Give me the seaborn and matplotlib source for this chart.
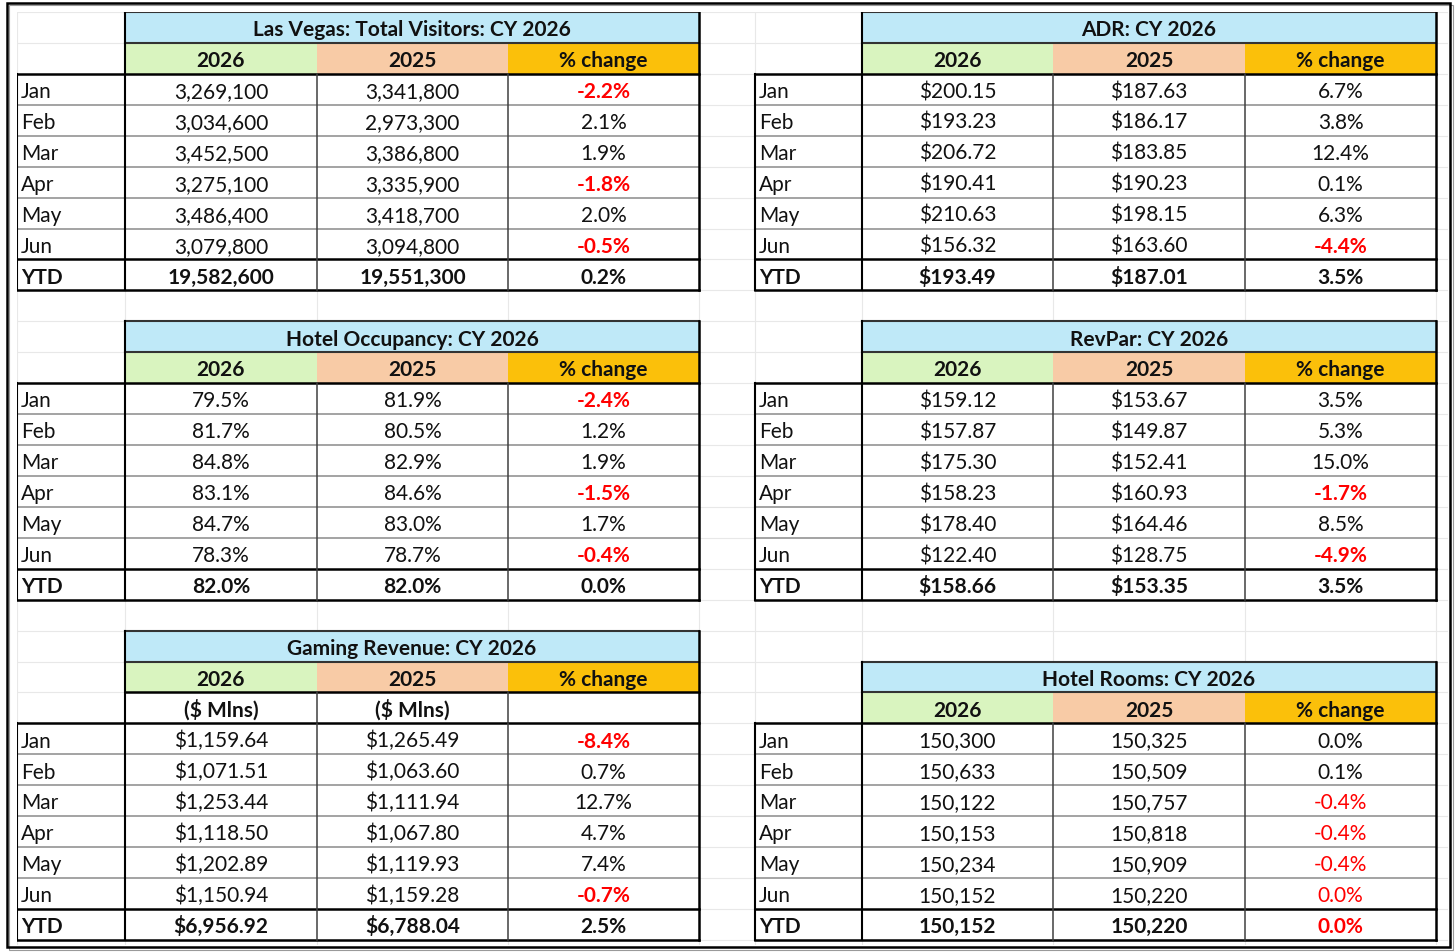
import matplotlib
matplotlib.use("Agg")
import matplotlib.pyplot as plt
from matplotlib.patches import Rectangle
import seaborn as sns

# ---- data ----
months = ["Jan", "Feb", "Mar", "Apr", "May", "Jun", "YTD"]
headers = ["2026", "2025", "% change"]

visitors_2026 = [3269100, 3034600, 3452500, 3275100, 3486400, 3079800, 19582600]
visitors_2025 = [3341800, 2973300, 3386800, 3335900, 3418700, 3094800, 19551300]
visitors_pct = [-2.2, 2.1, 1.9, -1.8, 2.0, -0.5, 0.2]

occ_2026 = [79.5, 81.7, 84.8, 83.1, 84.7, 78.3, 82.0]
occ_2025 = [81.9, 80.5, 82.9, 84.6, 83.0, 78.7, 82.0]
occ_pct = [-2.4, 1.2, 1.9, -1.5, 1.7, -0.4, 0.0]

gaming_2026 = [1159.64, 1071.51, 1253.44, 1118.50, 1202.89, 1150.94, 6956.92]
gaming_2025 = [1265.49, 1063.60, 1111.94, 1067.80, 1119.93, 1159.28, 6788.04]
gaming_pct = [-8.4, 0.7, 12.7, 4.7, 7.4, -0.7, 2.5]

adr_2026 = [200.15, 193.23, 206.72, 190.41, 210.63, 156.32, 193.49]
adr_2025 = [187.63, 186.17, 183.85, 190.23, 198.15, 163.60, 187.01]
adr_pct = [6.7, 3.8, 12.4, 0.1, 6.3, -4.4, 3.5]

revpar_2026 = [159.12, 157.87, 175.30, 158.23, 178.40, 122.40, 158.66]
revpar_2025 = [153.67, 149.87, 152.41, 160.93, 164.46, 128.75, 153.35]
revpar_pct = [3.5, 5.3, 15.0, -1.7, 8.5, -4.9, 3.5]

rooms_2026 = [150300, 150633, 150122, 150153, 150234, 150152, 150152]
rooms_2025 = [150325, 150509, 150757, 150818, 150909, 150220, 150220]
rooms_pct = [0.0, 0.1, -0.4, -0.4, -0.4, -0.04, -0.04]

# ---- style ----
BLUE = "#bfe9f8"
GREEN = "#d9f4bf"
PEACH = "#f8cba6"
GOLD = "#fbc00a"
RED = "#ff0000"
INK = "#111111"
head_colors = [GREEN, PEACH, GOLD]

sns.set_theme(style="whitegrid", rc={"grid.color": "#e8e8e8", "grid.linewidth": 0.8})
plt.rcParams["font.family"] = ["Lato", "DejaVu Sans"]
FS = 15

W, H = 1456, 953
fig = plt.figure(figsize=(W / 100, H / 100), dpi=100)
gx0, gx1, gy0, gy1 = 17, 1448, 13, 946
ax = fig.add_axes([gx0 / W, 1 - gy1 / H, (gx1 - gx0) / W, (gy1 - gy0) / H])
ax.set_xlim(gx0, gx1)
ax.set_ylim(gy1, gy0)

col_w = [108, 192, 191, 191, 56, 107, 191, 192, 191]
col_edges = [gx0]
for w in col_w:
    col_edges.append(col_edges[-1] + w)
ROW = 30.93
BASE = 23.2  # text baseline below the row's top edge
row_edges = [gy0 + i * ROW for i in range(31)]

# excel gridlines from the seaborn whitegrid style
ax.set_xticks(col_edges + [gx1])
ax.set_yticks(row_edges)
ax.tick_params(length=0, labelbottom=False, labelleft=False)
ax.set_axisbelow(True)
for s in ax.spines.values():
    s.set_visible(False)


def fmt_pct(v):
    s = f"{v:.1f}"
    if s == "-0.0":
        s = "0.0"
    return s + "%"


def cell_text(x, row_top, s, ha="center", weight="normal", color=INK):
    ax.text(x, row_top + BASE, s, ha=ha, va="baseline", fontsize=FS,
            fontweight=weight, color=color, zorder=5)


def hline(x0, x1, y, color="black", lw=1.5):
    ax.plot([x0, x1], [y, y], color=color, lw=lw, solid_capstyle="projecting", zorder=4)


def vline(x, y0, y1, color="black", lw=1.5):
    ax.plot([x, x], [y0, y1], color=color, lw=lw, solid_capstyle="projecting", zorder=4)


def draw_table(c0, r0, title, v26, v25, pct, fmt, sub=None, neg_bold=True):
    xs = col_edges[c0:c0 + 5]
    ytop = row_edges[r0]
    # title row
    ax.add_patch(Rectangle((xs[1], ytop), xs[4] - xs[1], ROW, fc=BLUE, ec="none", zorder=2))
    cell_text((xs[1] + xs[4]) / 2, ytop, title, weight="bold")
    # header row
    yh = row_edges[r0 + 1]
    for j, (h, c) in enumerate(zip(headers, head_colors)):
        ax.add_patch(Rectangle((xs[j + 1], yh), xs[j + 2] - xs[j + 1], ROW, fc=c, ec="none", zorder=2))
        cell_text((xs[j + 1] + xs[j + 2]) / 2, yh, h, weight="bold")
    r = r0 + 2
    if sub is not None:
        ys = row_edges[r]
        ax.add_patch(Rectangle((xs[1], ys), xs[4] - xs[1], ROW, fc="white", ec="none", zorder=2))
        for j, t in enumerate(sub):
            cell_text((xs[j + 1] + xs[j + 2]) / 2, ys, t, weight="bold")
        hline(xs[1], xs[4], ys, lw=1.8)
        vline(xs[2], ys, ys + ROW, color="#404040", lw=1.1)
        vline(xs[3], ys, ys + ROW, color="#404040", lw=1.1)
        r += 1
    yd = row_edges[r]
    yb = row_edges[r + 7]
    ax.add_patch(Rectangle((xs[0], yd), xs[4] - xs[0], yb - yd, fc="white", ec="none", zorder=2))
    for i, m in enumerate(months):
        top = row_edges[r + i]
        bold = "bold" if m == "YTD" else "normal"
        cell_text(xs[0] + 4, top, m, ha="left", weight=bold)
        cell_text((xs[1] + xs[2]) / 2, top, fmt(v26[i]), weight=bold)
        cell_text((xs[2] + xs[3]) / 2, top, fmt(v25[i]), weight=bold)
        neg = pct[i] < 0
        pw = "bold" if (m == "YTD" or (neg and neg_bold)) else "normal"
        cell_text((xs[3] + xs[4]) / 2, top, fmt_pct(pct[i]), weight=pw,
                  color=RED if neg else INK)
        if 0 < i < 6:
            hline(xs[0], xs[4], top, color="#8a8a8a", lw=1.1)
    # borders
    hline(xs[1], xs[4], ytop, color="#333333", lw=1.5)
    hline(xs[1], xs[4], yh, color="#333333", lw=1.5)
    hline(xs[0], xs[4], yd, lw=1.8)
    hline(xs[0], xs[4], row_edges[r + 6], lw=1.8)
    hline(xs[0], xs[4], yb, lw=1.8)
    vline(xs[0], yd, yb, lw=1.5)
    vline(xs[1], ytop, yb, lw=1.5)
    vline(xs[4], ytop, yb, lw=1.8)
    vline(xs[2], yd, yb, color="#404040", lw=1.1)
    vline(xs[3], yd, yb, color="#404040", lw=1.1)


num = lambda v: f"{v:,}"
dollar = lambda v: f"${v:,.2f}"
occ = lambda v: f"{v:.1f}%"

draw_table(0, 0, "Las Vegas: Total Visitors: CY 2026", visitors_2026, visitors_2025, visitors_pct, num)
draw_table(0, 10, "Hotel Occupancy: CY 2026", occ_2026, occ_2025, occ_pct, occ)
draw_table(0, 20, "Gaming Revenue: CY 2026", gaming_2026, gaming_2025, gaming_pct, dollar,
           sub=["($ Mlns)", "($ Mlns)", ""])
draw_table(5, 0, "ADR: CY 2026", adr_2026, adr_2025, adr_pct, dollar)
draw_table(5, 10, "RevPar: CY 2026", revpar_2026, revpar_2025, revpar_pct, dollar)
draw_table(5, 21, "Hotel Rooms: CY 2026", rooms_2026, rooms_2025, rooms_pct, num, neg_bold=False)

# sheet frame with a faint second edge on the right and bottom
fig.add_artist(Rectangle((7 / W, 1 - 948 / H), (1450 - 7) / W, (948 - 4) / H,
                         transform=fig.transFigure, fill=False, ec="black", lw=1.8))
fig.add_artist(Rectangle((9 / W, 1 - 951 / H), (1453 - 9) / W, (951 - 6) / H,
                         transform=fig.transFigure, fill=False, ec="#9a9a9a", lw=0.8, zorder=0))

fig.savefig("out.png", dpi=100, facecolor="white")
